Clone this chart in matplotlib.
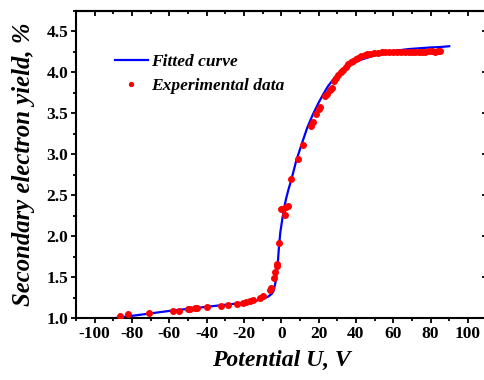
import matplotlib
matplotlib.use("Agg")
import matplotlib.pyplot as plt
from matplotlib.ticker import MultipleLocator
import numpy as np

# Fitted curve
fit_u = [-90, -80, -70, -60, -50, -40, -30, -20, -15, -10, -7, -5, -4, -3, -2, -1.3,
         -0.5, 0.5, 1.5, 2.5, 3.6, 5, 6.2, 8, 10, 11.6, 14, 17, 20, 22.4, 25, 27,
         29.6, 32, 35, 38.5, 42, 47.5, 53, 58, 63, 68, 74, 80, 85, 90]
fit_y = [1.00, 1.03, 1.06, 1.09, 1.115, 1.14, 1.165, 1.19, 1.205, 1.235, 1.265, 1.30,
         1.34, 1.45, 1.62, 1.85, 2.05, 2.20, 2.34, 2.45, 2.55, 2.66, 2.76, 2.92, 3.06,
         3.17, 3.33, 3.49, 3.63, 3.73, 3.83, 3.89, 3.96, 4.02, 4.07, 4.11, 4.15, 4.19,
         4.23, 4.255, 4.27, 4.285, 4.295, 4.305, 4.31, 4.32]

exp_u = [-86.4, -81.9, -70.8, -57.9, -54.7, -50.2, -48.8, -46.1, -45.4, -40.0,
         -32.1, -28.5, -23.9, -20.4, -18.7, -16.9, -15.0, -11.5, -9.7, -6.1, -5.5,
         -3.8, -3.1, -2.5, -2.3, -1.3, -0.2, 1.1, 2.0, 2.5, 3.4,
         5.2, 8.8, 11.8, 15.9, 16.8, 18.4, 20.2, 20.7, 23.5, 24.7, 26.0, 27.0, 28.5,
         29.5, 30.6, 32.0, 33.3, 34.5, 36.0, 37.5, 38.7, 40.0, 41.4, 43.0, 44.9, 46.0,
         47.6, 49.5, 52.1, 54.0, 55.7, 58.0, 60.0, 62.0, 64.0, 66.5, 68.5, 70.0, 71.8,
         74.0, 75.5, 77.2, 79.0, 80.8, 82.5, 84.0, 85.3]
exp_y = [1.03, 1.05, 1.065, 1.085, 1.09, 1.11, 1.11, 1.12, 1.125, 1.135,
         1.155, 1.16, 1.18, 1.19, 1.20, 1.21, 1.22, 1.245, 1.27, 1.345, 1.37,
         1.49, 1.57, 1.64, 1.66, 1.92, 2.33, 2.33, 2.26, 2.355, 2.37,
         2.70, 2.945, 3.12, 3.35, 3.40, 3.49, 3.56, 3.58, 3.71, 3.74, 3.78, 3.81, 3.89,
         3.93, 3.97, 4.00, 4.03, 4.07, 4.10, 4.13, 4.145, 4.16, 4.18, 4.20, 4.215, 4.22,
         4.23, 4.235, 4.24, 4.245, 4.245, 4.25, 4.25, 4.255, 4.25, 4.245, 4.25, 4.255, 4.255,
         4.25, 4.255, 4.255, 4.26, 4.26, 4.255, 4.26, 4.26]

x_ticks = [-100, -80, -60, -40, -20, 0, 20, 40, 60, 80, 100]
y_ticks = [1.0, 1.5, 2.0, 2.5, 3.0, 3.5, 4.0, 4.5]

plt.rcParams['font.family'] = ['Liberation Serif', 'DejaVu Serif']
plt.rcParams['font.weight'] = 'bold'

fig = plt.figure(figsize=(4.84, 3.80), dpi=100)
ax = fig.add_axes([76/484, 1 - 318.3/380, (486.5 - 76)/484, (318.3 - 11)/380])

ax.plot(fit_u, fit_y, color='#0000ff', lw=1.6, label='Fitted curve', zorder=2)
ax.plot(exp_u, exp_y, 'o', color='#ff0000', ms=4, mec='#ff0000', label='Experimental data', zorder=3)

ax.set_xlim(-110, 110)
ax.set_ylim(1.0, 4.75)
ax.set_xticks(x_ticks)
ax.set_yticks(y_ticks)
ax.set_xticklabels([str(t) for t in x_ticks])
ax.set_yticklabels([f"{t:.1f}" for t in y_ticks])
ax.xaxis.set_minor_locator(MultipleLocator(10))
ax.yaxis.set_minor_locator(MultipleLocator(0.25))

for s in ax.spines.values():
    s.set_linewidth(1.5)
ax.spines['right'].set_visible(False)

ax.tick_params(which='both', direction='out', top=False, right=False, width=1.3, labelsize=12.5, pad=2)
ax.tick_params(which='major', length=3.6)
ax.tick_params(which='minor', length=2)
for lab in ax.get_xticklabels() + ax.get_yticklabels():
    lab.set_fontweight('bold')

# inward ticks on top and right
axt = ax.secondary_xaxis('top')
axt.set_xticks(x_ticks)
axt.xaxis.set_minor_locator(MultipleLocator(10))
axt.tick_params(which='both', direction='in', labeltop=False, width=1.3)
axt.tick_params(which='major', length=3.6)
axt.tick_params(which='minor', length=2)
for s in axt.spines.values():
    s.set_linewidth(1.5)
axr = ax.secondary_yaxis('right')
axr.set_yticks(y_ticks)
axr.yaxis.set_minor_locator(MultipleLocator(0.25))
axr.tick_params(which='both', direction='in', labelright=False, width=1.3)
axr.tick_params(which='major', length=3.6)
axr.tick_params(which='minor', length=2)
for s in axr.spines.values():
    s.set_visible(False)

ax.set_xlabel('Potential U, V', fontsize=17, fontweight='bold', fontstyle='italic', labelpad=6)
ax.set_ylabel('Secondary electron yield, %', fontsize=17.8, fontweight='bold', fontstyle='italic', labelpad=8)

leg = ax.legend(loc='upper left', bbox_to_anchor=(115/484, 1 - 54/380), bbox_transform=fig.transFigure,
                frameon=False, borderpad=0, borderaxespad=0, handlelength=1.9, handletextpad=0.2,
                labelspacing=0.45, numpoints=1, markerscale=0.7,
                prop={'family': 'Liberation Serif', 'weight': 'bold', 'style': 'italic', 'size': 12.5})

fig.savefig('out.png', dpi=100)
